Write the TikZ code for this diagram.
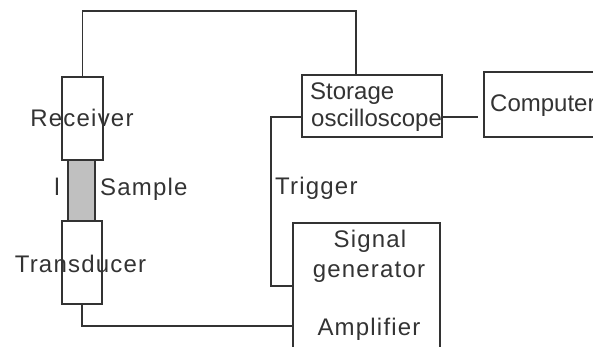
\documentclass[tikz,border=0pt]{standalone}
\usepackage{fontspec}
\setmainfont{Liberation Sans}
\newfontfamily\widefont[LetterSpace=5]{Liberation Sans}
\usetikzlibrary{positioning, calc}
\definecolor{ink}{HTML}{333333}
\definecolor{samplegray}{HTML}{C0C0C0}
\tikzset{
  box/.style ={rectangle, draw=ink, line width=1.6pt, inner sep=0pt},
  smp/.style ={rectangle, draw=ink, line width=1.6pt, fill=samplegray,
               inner sep=0pt},
  lbl/.style ={inner sep=0pt, text=ink, font=\fontsize{24}{27}\selectfont},
  wlbl/.style={lbl, font=\fontsize{24}{27}\widefont},
  wire/.style={draw=ink, line width=1.6pt}
}
\begin{document}
\begin{tikzpicture}[x=1pt, y=-1pt]
    \useasboundingbox (0,0) rectangle (593,347);
    % boxes
    \node[box, minimum width=41pt, minimum height=83pt] (rec) at (82.5,118.5) {};
    \node[smp, minimum width=27pt, minimum height=61pt] (smp) at (81.5,190.5) {};
    \node[box, minimum width=40pt, minimum height=83pt] (trd) at (82,262.5) {};
    \node[box, minimum width=140pt, minimum height=62pt] (osc) at (372,106) {};
    \node[box, minimum width=130pt, minimum height=65pt] (com) at (549,104.5) {};
    \node[box, minimum width=147pt, minimum height=140pt] (sig) at (366.5,293) {};
    % labels
    \node[wlbl, anchor=base] (recl) at (82,127) {Receiver};
    \node[wlbl, anchor=base] (len) at (57,196) {l};
    \node[wlbl, anchor=base west] (smpl) at (100,196) {Sample};
    \node[wlbl, anchor=base] (trdl) at (80.5,272) {Transducer};
    \node[lbl, anchor=base west] (osc1) at (310,100) {Storage};
    \node[lbl, anchor=base west] (osc2) at (311,127) {oscilloscope};
    \node[lbl, anchor=base west] (coml) at (490,112) {Computer};
    \node[wlbl, anchor=base west] (trg) at (275,194) {Trigger};
    \node[wlbl, anchor=base] (sig1) at (370,247) {Signal};
    \node[wlbl, anchor=base] (sig2) at (369,277) {generator};
    \node[wlbl, anchor=base] (amp) at (369,335) {Amplifier};
    % wires
    \draw[wire] (rec.north) -- ++(0,-65) -| ([xshift=-16pt]osc.north);
    \draw[wire] ([yshift=-11pt]osc.west) -- ++(-30,0) |- ([yshift=-64pt]sig.north west);
    \draw[wire] (trd.south) |- ([yshift=-104pt]sig.north west);
    \draw[wire, shorten >=5pt] ([yshift=-11pt]osc.east) -- ([yshift=-11pt]osc.east -| com.west);
\end{tikzpicture}
\end{document}
